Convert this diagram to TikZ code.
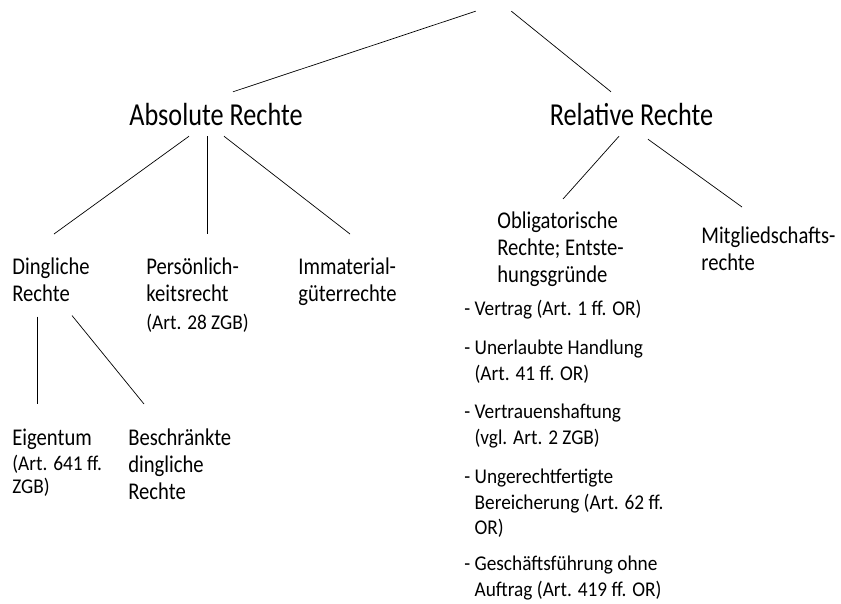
\documentclass[tikz,border=0pt]{standalone}
\usepackage{fontspec}
\setmainfont{Carlito}[FakeStretch=0.82]
\newfontfamily\catfamily{Carlito}[FakeStretch=0.86]
\newfontfamily\basisfamily{Carlito}[FakeStretch=0.92]
\usetikzlibrary{positioning}
\newcommand{\basisfont}{\basisfamily\fontsize{21}{25.5}\selectfont}
\newcommand{\hang}{\hphantom{-~}}

\begin{document}
\begin{tikzpicture}[x=1pt, y=-1pt, line width=0.7pt,
    every node/.style={inner sep=0pt},
    heading/.style={font=\fontsize{32}{38}\selectfont, anchor=base, outer ysep=11pt},
    category/.style={font=\catfamily\fontsize{24}{27}\selectfont, align=left, anchor=north west},
    basis/.style={font=\basisfont, align=left, anchor=north west}]
  \useasboundingbox (0,0) rectangle (841,603);

  % root without label
  \node[minimum width=35pt, minimum height=10.5pt, anchor=north] (root) at (493.5,0) {};

  % first level
  \node[heading] (absolute) at (216,125) {Absolute Rechte};
  \node[heading] (relative) at (631.5,125) {Relative Rechte};

  % second level
  \node[category] (dinglich) at (12,257.5) {Dingliche\\Rechte};
  \node[category] (persoenlich) at (146,257.5) {Persönlich-\\keitsrecht\\[1pt]{\basisfont (Art. 28 ZGB)}};
  \node[category] (immaterial) at (298,257.5) {Immaterial-\\güterrechte};
  \node[category] (obligatorisch) at (497,211.5) {Obligatorische\\Rechte; Entste-\\hungsgründe};
  \node[category] (mitglied) at (701,226.5) {Mitgliedschafts-\\rechte};

  % third level
  \node[category] (eigentum) at (12,428.5) {Eigentum\\[-2pt]{\basisfont (Art. 641 ff.}\\[-4pt]{\basisfont ZGB)}};
  \node[category] (beschraenkt) at (128,428.5) {Beschränkte\\dingliche\\Rechte};

  % Entstehungsgruende
  \node[basis] (vertrag) at (464,299.5) {- Vertrag (Art. 1 ff. OR)};
  \node[basis] (unerlaubt) at ([yshift=-20.5pt]vertrag.south west) {- Unerlaubte Handlung\\\hang(Art. 41 ff. OR)};
  \node[basis] (vertrauen) at ([yshift=-20.5pt]unerlaubt.south west) {- Vertrauenshaftung\\\hang(vgl. Art. 2 ZGB)};
  \node[basis] (bereicherung) at ([yshift=-20.5pt]vertrauen.south west) {- Ungerechtfertigte\\\hang Bereicherung (Art. 62 ff.\\\hang OR)};
  \node[basis] (gofa) at ([yshift=-18pt]bereicherung.south west) {- Geschäftsführung ohne\\\hang Auftrag (Art. 419 ff. OR)};

  % lines
  \draw (root.south west) -- ([xshift=17pt]absolute.north);
  \draw (root.south east) -- ([xshift=-20.5pt]relative.north);
  \draw ([xshift=-27pt]absolute.south) -- ([xshift=42pt, yshift=23.5pt]dinglich.north west);
  \draw ([xshift=-9pt]absolute.south) -- ([xshift=61pt, yshift=23.5pt]persoenlich.north west);
  \draw ([xshift=8pt]absolute.south) -- ([xshift=52pt, yshift=23.5pt]immaterial.north west);
  \draw ([xshift=-12.5pt]relative.south) -- ([xshift=66pt, yshift=12.5pt]obligatorisch.north west);
  \draw ([xshift=16.5pt, yshift=-3pt]relative.south) -- ([xshift=41pt, yshift=19.5pt]mitglied.north west);
  \draw ([xshift=25pt, yshift=-14.5pt]dinglich.south west) -- ([xshift=25pt, yshift=24.5pt]eigentum.north west);
  \draw ([xshift=60pt, yshift=-13.5pt]dinglich.south west) -- ([xshift=16pt, yshift=24.5pt]beschraenkt.north west);
\end{tikzpicture}
\end{document}
